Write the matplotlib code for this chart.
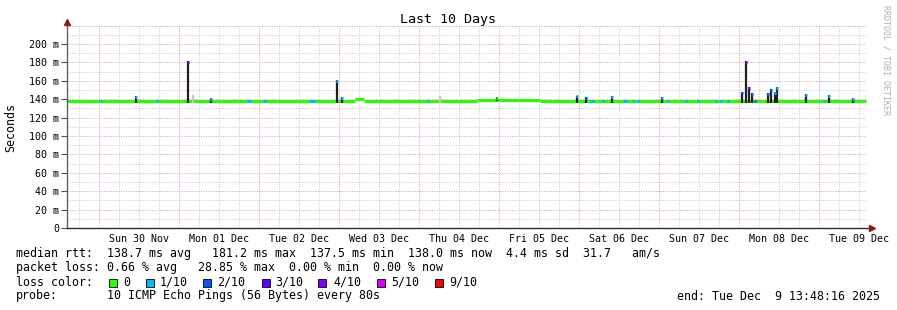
import numpy as np
import matplotlib.pyplot as plt
from matplotlib.patches import Rectangle
from datetime import datetime, timedelta

plt.rcParams['font.family'] = 'DejaVu Sans Mono'

# time axis: hours since Sun 30 Nov 2025 00:00
t_start = -9.6
t_end = 230.4
day0 = datetime(2025, 11, 30)

# median rtt plateaus (ms)
lvl_from = [-9.6, 76.8, 79.5, 113.4, 132.3]
lvl_to = [76.8, 79.5, 113.4, 132.3, 230.1]
lvl_ms = [137.8, 140.5, 137.8, 139.3, 137.6]

# short stretches of the median line with packet loss (loss class index)
loss_from = [0.3, 17.1, 44.4, 49.2, 63.3, 98.4, 147.3, 150.9, 157.2, 159.9,
             161.4, 170.4, 175.8, 179.4, 184.8, 186.3, 188.4, 196.5, 217.2]
loss_to = [0.9, 17.7, 45.6, 50.1, 64.8, 99.0, 148.5, 151.5, 158.4, 160.5,
           162.0, 171.0, 176.4, 180.0, 185.4, 186.9, 189.0, 197.1, 217.8]
loss_cls = [1, 1, 1, 1, 1, 1, 1, 1, 1, 1,
            1, 1, 1, 1, 1, 1, 1, 2, 1]

# spikes: time, top (ms), loss class of median at top (-1 = light smoke only)
spike_t = [11.1, 26.7, 28.2, 33.6, 71.4, 72.9, 102.3, 119.4, 143.4, 146.1,
           153.9, 168.9, 192.9, 194.1, 195.0, 195.9, 200.7, 201.6, 202.8,
           203.4, 212.1, 219.0, 226.2]
spike_ms = [143.5, 181.2, 145.0, 141.0, 161.0, 142.0, 143.0, 142.0, 144.0,
            142.0, 143.0, 142.0, 148.0, 181.0, 153.0, 147.0, 147.0, 151.0,
            148.0, 153.0, 146.0, 145.0, 141.0]
spike_loss = [1, 3, -1, 1, 1, 1, -1, 0, 1, 2,
              1, 1, 2, 3, 4, 2, 2, 2, 1, 1, 1, 1, 1]

loss_colors = ['#26ff00', '#00b8ff', '#0059ff', '#5e00ff', '#7e00ff', '#dd00ff', '#ff0000']
loss_labels = ['0', '1/10', '2/10', '3/10', '4/10', '5/10', '9/10']


def base_at(t):
    for a, b, v in zip(lvl_from, lvl_to, lvl_ms):
        if a <= t < b:
            return v
    return lvl_ms[-1]


W, H = 897, 310
fig = plt.figure(figsize=(W / 100, H / 100), dpi=100)
ax = fig.add_axes([67 / W, (H - 228) / H, 800 / W, (228 - 25.6) / H])
ax.set_xlim(t_start, t_end)
ax.set_ylim(0, 220)
for s in ax.spines.values():
    s.set_visible(False)

# grid
dot = (0, (1, 1.5))
for v in range(10, 220, 20):
    ax.axhline(v, color='#c8c8c8', lw=0.7, ls=dot, zorder=0)
for v in range(20, 221, 20):
    ax.axhline(v, color='#e09a9a', lw=0.7, ls=dot, zorder=0)
for h in np.arange(-6, t_end, 6):
    if h % 24 != 0:
        ax.axvline(h, color='#c8c8c8', lw=0.7, ls=dot, zorder=0)
for h in np.arange(0, t_end, 24):
    ax.axvline(h, color='#e09a9a', lw=0.7, ls=dot, zorder=0)

# median line
ax.hlines(lvl_ms, lvl_from, lvl_to, colors=loss_colors[0], lw=2.2, zorder=2)
for a, b, c in zip(loss_from, loss_to, loss_cls):
    ax.hlines(base_at(a), a, b, colors=loss_colors[c], lw=2.2, zorder=3)

# smoke spikes and median at top
for t, top, c in zip(spike_t, spike_ms, spike_loss):
    base = base_at(t)
    smoke = '#c4c4c4' if c < 0 else '#202020'
    ax.vlines(t, base - 1.5, top, colors=smoke, lw=1.6, zorder=4)
    if c >= 0:
        ax.hlines(top - 1, t - 0.35, t + 0.35, colors=loss_colors[c], lw=2.2, zorder=5)

# ticks
yt = list(range(0, 201, 20))
ax.set_yticks(yt)
ax.set_yticklabels(['0' if v == 0 else f'{v} m' for v in yt])
ax.tick_params(axis='y', length=4, width=0.8, color='#505050', labelsize=7.2, pad=1.5)
xt = [12 + 24 * k for k in range(10)]
ax.set_xticks(xt)
ax.set_xticklabels([(day0 + timedelta(days=k)).strftime('%a %d %b') for k in range(10)])
ax.tick_params(axis='x', length=0, labelsize=7.2, pad=4)

# axis lines with arrows
ax.plot([0, 0], [0, 1.02], transform=ax.transAxes, color='#606060', lw=1, clip_on=False, zorder=6)
ax.plot([0, 1.005], [0, 0], transform=ax.transAxes, color='#303030', lw=1, clip_on=False, zorder=6)
ax.plot([0], [1.02], transform=ax.transAxes, marker='^', color='#8b1a1a', ms=4, clip_on=False, zorder=7)
ax.plot([1.006], [0], transform=ax.transAxes, marker='>', color='#8b1a1a', ms=4, clip_on=False, zorder=7)

fig.text(11 / W, 1 - 127 / H, 'Seconds', rotation=90, ha='center', va='center', fontsize=8.4)
fig.text(448 / W, 1 - 19 / H, 'Last 10 Days', ha='center', va='center', fontsize=9.6)
fig.text(886 / W, 1 - 5 / H, 'RRDTOOL / TOBI OETIKER', rotation=270, ha='center', va='top',
         fontsize=6, color='#b0b0b0')

# legend
fs = 8.4
fig.text(16 / W, 1 - 254 / H,
         'median rtt:  138.7 ms avg   181.2 ms max  137.5 ms min  138.0 ms now  4.4 ms sd  31.7   am/s',
         va='center', fontsize=fs)
fig.text(16 / W, 1 - 268 / H,
         'packet loss: 0.66 % avg   28.85 % max  0.00 % min  0.00 % now',
         va='center', fontsize=fs)
fig.text(16 / W, 1 - 282 / H, 'loss color:', va='center', fontsize=fs)
sq_x = [109, 146, 203, 262, 318, 377, 435]
txt_x = [123, 160, 217, 275, 333, 391, 449]
for sx, tx, col, lab in zip(sq_x, txt_x, loss_colors, loss_labels):
    fig.patches.append(Rectangle((sx / W, 1 - 287 / H), 8 / W, 8 / H, transform=fig.transFigure,
                                 facecolor=col, edgecolor='black', lw=0.6))
    fig.text(tx / W, 1 - 282 / H, lab, va='center', fontsize=fs)
fig.text(16 / W, 1 - 296 / H, 'probe:', va='center', fontsize=fs)
fig.text(107 / W, 1 - 296 / H, '10 ICMP Echo Pings (56 Bytes) every 80s', va='center', fontsize=fs)
fig.text(880 / W, 1 - 296 / H, 'end: Tue Dec  9 13:48:16 2025', ha='right', va='center', fontsize=fs)

fig.savefig('out.png', dpi=100)
